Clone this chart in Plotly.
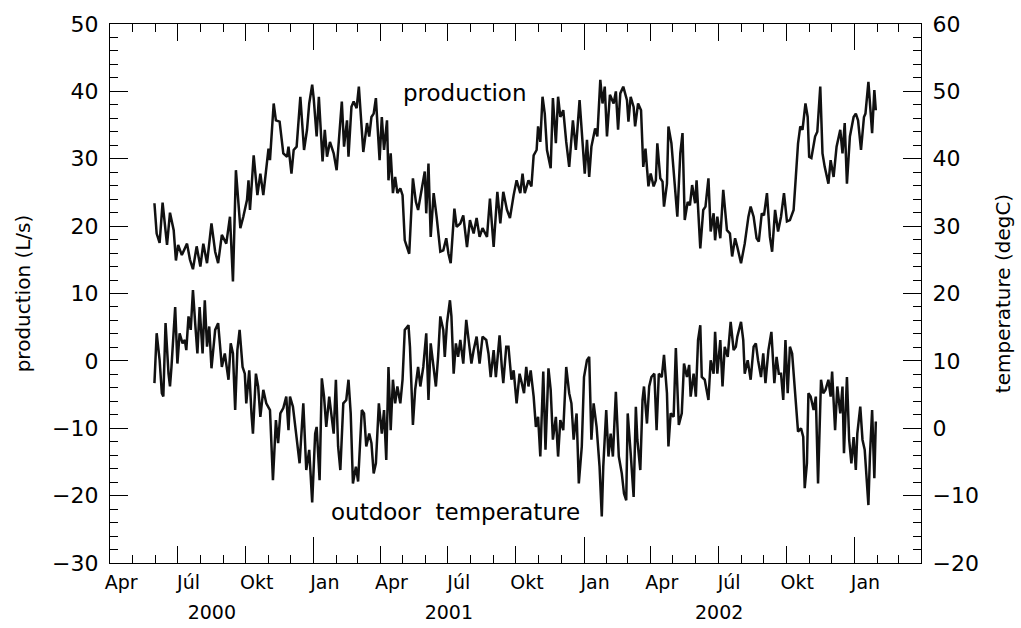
import pandas as pd
import plotly.graph_objects as go

START = "2000-04-01"
END = "2003-04-01"

# days since 2000-04-01 and production (L/s)
prod_day = [60, 63, 67, 71, 77, 81, 86, 89, 92, 97, 104, 108, 112, 117, 122, 126, 131, 137, 142, 146,
            151, 157, 162, 166, 170, 176, 180, 185, 187, 189, 194, 199, 203, 207, 214, 216, 221, 224, 229, 232,
            234, 239, 241, 245, 248, 252, 256, 257, 262, 266, 269, 273, 275, 279, 282, 287, 290, 293, 297, 302,
            306, 313, 316, 320, 322, 326, 329, 333, 336, 342, 347, 350, 353, 356, 359, 364, 367, 370, 374, 376,
            379, 382, 385, 388, 392, 395, 398, 401, 404, 409, 413, 416, 421, 425, 427, 430, 433, 437, 441, 446,
            450, 454, 457, 460, 465, 468, 473, 477, 482, 486, 491, 495, 499, 503, 509, 513, 518, 523, 527, 531,
            536, 540, 545, 549, 554, 557, 560, 565, 569, 572, 576, 578, 581, 584, 587, 590, 595, 598, 602, 605,
            608, 612, 616, 620, 625, 629, 634, 637, 641, 644, 647, 650, 655, 658, 662, 665, 668, 671, 675, 680,
            683, 686, 689, 693, 698, 700, 703, 707, 709, 713, 717, 720, 723, 727, 730, 734, 737, 739, 743, 746,
            748, 752, 754, 758, 762, 766, 770, 773, 776, 780, 783, 786, 790, 792, 797, 801, 804, 808, 811, 815,
            817, 820, 824, 828, 833, 837, 840, 844, 847, 852, 857, 862, 865, 869, 873, 876, 880, 883, 887, 891,
            894, 898, 902, 906, 910, 914, 918, 923, 926, 929, 932, 935, 939, 942, 944, 947, 952, 955, 959, 962,
            965, 970, 973, 977, 981, 986, 989, 992, 995, 999, 1004, 1007, 1010, 1014, 1018, 1020, 1024, 1026,
            1029, 1032, 1034]
prod_val = [23.4, 18.9, 17.5, 23.5, 17.2, 22.0, 19.4, 14.9, 17.2, 15.7, 17.4, 15.0, 13.6, 17.0, 14.0, 17.4,
            14.5, 20.4, 16.2, 14.5, 18.7, 17.4, 21.4, 11.8, 28.3, 19.7, 21.4, 23.9, 26.8, 22.4, 30.5, 24.6, 27.8,
            24.6, 31.5, 29.8, 38.2, 35.7, 35.5, 32.0, 30.8, 30.3, 31.8, 27.8, 31.3, 31.8, 38.2, 39.2, 31.3, 34.3,
            38.2, 41.0, 39.0, 33.3, 39.2, 29.6, 34.3, 30.3, 32.5, 30.8, 28.3, 38.5, 31.8, 35.7, 30.3, 37.7, 38.5,
            37.5, 40.7, 31.0, 35.3, 33.3, 36.2, 36.7, 39.0, 29.8, 36.2, 31.3, 35.7, 26.8, 30.8, 24.9, 27.3, 24.9,
            25.6, 24.6, 17.9, 16.9, 15.9, 27.1, 23.6, 22.4, 25.4, 28.1, 21.9, 29.3, 18.4, 24.9, 21.4, 16.2, 16.4,
            18.2, 15.9, 14.5, 22.6, 19.9, 20.4, 21.6, 16.9, 20.9, 18.9, 21.2, 18.4, 19.7, 18.4, 24.1, 16.9, 25.1,
            20.4, 25.1, 22.4, 21.2, 24.6, 26.8, 24.9, 27.8, 24.9, 26.8, 25.9, 30.5, 31.3, 34.8, 32.5, 39.2, 36.7,
            31.3, 28.6, 39.0, 32.3, 39.2, 36.2, 37.2, 32.5, 28.8, 35.7, 31.3, 38.7, 34.3, 27.8, 32.8, 27.3, 31.8,
            34.5, 33.3, 41.7, 38.2, 40.7, 33.3, 39.5, 38.2, 40.0, 34.3, 39.7, 40.7, 38.7, 35.5, 39.2, 37.7, 34.8,
            38.2, 37.2, 28.8, 31.5, 25.9, 27.8, 25.9, 26.8, 32.3, 27.1, 26.6, 22.9, 26.3, 34.8, 32.3, 26.8, 21.4,
            30.8, 33.8, 20.9, 23.6, 23.1, 26.1, 23.4, 26.8, 16.7, 22.4, 22.9, 27.1, 19.2, 21.9, 17.9, 21.4, 18.2,
            25.4, 19.4, 18.9, 15.5, 18.2, 16.9, 14.5, 17.4, 21.4, 22.9, 21.4, 18.2, 17.7, 21.9, 21.6, 24.9, 18.4,
            16.2, 22.4, 19.2, 21.4, 24.9, 20.7, 20.9, 22.4, 27.3, 32.3, 34.8, 34.3, 38.2, 36.2, 30.3, 30.1, 33.3,
            34.0, 40.7, 30.8, 28.8, 26.3, 29.8, 27.3, 31.8, 34.3, 30.8, 35.3, 26.3, 33.3, 36.2, 36.7, 35.7, 31.3,
            36.2, 36.7, 41.4, 38.2, 33.8, 40.2, 37.2]

# days since 2000-04-01 and outdoor temperature (degC)
temp_day = [60, 63, 67, 70, 72, 75, 79, 81, 83, 88, 91, 94, 98, 101, 103, 106, 109, 112, 115, 118,
            121, 125, 128, 131, 134, 137, 142, 146, 151, 155, 160, 163, 166, 169, 172, 175, 179, 182, 184, 188,
            191, 193, 197, 200, 203, 207, 211, 216, 220, 224, 227, 230, 234, 238, 241, 243, 247, 252, 256, 261,
            265, 269, 273, 277, 279, 283, 286, 289, 292, 296, 299, 302, 305, 308, 311, 315, 319, 322, 325, 328,
            332, 335, 340, 343, 346, 350, 353, 356, 359, 363, 367, 370, 373, 376, 379, 382, 385, 388, 392, 395,
            398, 403, 405, 409, 412, 416, 419, 423, 427, 430, 433, 436, 440, 443, 446, 450, 452, 455, 459, 461,
            464, 467, 470, 473, 477, 481, 485, 488, 491, 495, 499, 503, 508, 511, 514, 518, 521, 526, 529, 531,
            535, 538, 542, 545, 549, 553, 556, 559, 562, 565, 568, 572, 575, 578, 581, 585, 588, 592, 595, 598,
            602, 605, 608, 612, 616, 620, 623, 626, 630, 633, 637, 640, 644, 647, 650, 653, 657, 661, 664, 666,
            670, 673, 676, 679, 683, 687, 691, 694, 697, 699, 703, 707, 710, 712, 716, 719, 721, 725, 728, 731,
            735, 738, 741, 745, 748, 752, 754, 757, 761, 764, 768, 772, 775, 779, 782, 784, 788, 791, 794, 797,
            799, 803, 808, 811, 815, 817, 820, 824, 827, 830, 834, 838, 842, 845, 847, 852, 855, 857, 861, 865,
            869, 872, 875, 879, 882, 885, 889, 893, 897, 900, 903, 906, 909, 912, 915, 918, 921, 925, 929, 933,
            936, 938, 941, 943, 946, 950, 953, 956, 960, 963, 966, 970, 973, 975, 979, 982, 986, 989, 991, 995,
            998, 1001, 1004, 1007, 1009, 1013, 1016, 1019, 1022, 1024, 1026, 1029, 1032, 1034]
temp_val = [6.7, 14.1, 10.1, 5.2, 4.7, 15.6, 8.1, 6.2, 9.1, 18.0, 9.6, 14.1, 12.6, 13.1, 11.6, 16.6, 14.6,
            20.5, 15.6, 11.1, 18.0, 11.1, 19.0, 12.1, 15.1, 8.9, 14.6, 15.6, 9.1, 11.1, 7.2, 12.6, 11.1, 2.7,
            11.6, 14.6, 9.1, 8.1, 3.7, 8.6, 2.2, -0.8, 8.1, 6.2, 1.7, 5.7, 3.7, 2.7, -7.7, 1.2, -2.2, 2.2, 3.0,
            4.7, -0.3, 4.7, 3.2, -1.7, -5.2, 3.7, -6.2, -3.2, -11.0, -0.8, 0.2, -7.7, 7.4, 4.7, 0.2, 4.7, 1.7,
            -0.8, 7.2, -2.7, -6.2, 3.7, 4.2, 7.2, 2.2, -8.2, -5.7, -7.9, 2.7, 2.2, -2.7, -0.8, -2.2, -6.7, -5.2,
            3.7, -0.8, 2.7, -4.7, 9.1, -0.3, 7.2, 3.7, 6.2, 3.7, 7.2, 14.6, 15.3, 12.1, 0.5, 5.7, 9.1, 6.2, 9.1,
            14.1, 4.2, 12.6, 10.1, 6.2, 10.6, 16.6, 14.6, 10.6, 15.6, 19.0, 16.6, 8.1, 12.6, 10.6, 13.1, 9.6,
            16.1, 12.1, 9.6, 11.6, 13.6, 9.6, 13.6, 13.1, 11.1, 7.6, 11.6, 7.6, 13.8, 9.1, 6.7, 12.1, 12.1, 7.2,
            8.6, 3.7, 8.1, 6.7, 5.2, 9.1, 6.2, 8.6, 4.7, 0.2, 1.7, -4.2, 8.4, -3.2, 8.9, 5.7, -1.7, 1.7, -4.2,
            1.2, -0.3, 9.1, 5.2, 3.7, -1.7, 2.2, -8.2, -2.7, 7.6, 10.1, 10.6, -1.7, 3.7, 0.2, -5.7, -13.1, -5.7,
            2.7, -4.2, -0.8, -4.2, 5.4, -4.2, -6.7, -9.7, -10.7, 2.2, -3.7, -10.2, 3.2, -1.7, -6.2, 4.2, 6.2,
            0.7, 6.2, 7.6, 8.1, -0.3, 8.1, 7.6, 10.9, 5.2, -2.7, 2.2, 1.7, 11.9, 0.5, 2.2, 9.6, 7.6, 9.4, 4.7,
            8.1, 4.7, 13.1, 15.3, 7.6, 7.2, 4.2, 10.1, 8.1, 14.3, 8.1, 13.1, 6.2, 12.1, 10.6, 15.8, 11.6, 12.1,
            13.6, 15.8, 13.1, 8.1, 10.1, 7.2, 12.1, 12.6, 10.1, 7.6, 11.1, 6.7, 11.6, 14.3, 6.7, 10.6, 8.1, 8.1,
            4.2, 13.1, 5.2, 12.1, 11.1, 5.7, -0.5, 0.0, -1.3, -8.9, -5.2, 5.2, 4.7, 2.7, 4.7, -8.2, 7.2, 5.2,
            5.7, 7.2, 4.7, 8.4, -0.3, 6.2, 2.2, 6.2, -3.7, 7.6, -1.7, -5.2, -1.3, -6.2, -0.8, 3.2, -1.7, -3.2,
            -7.7, -11.4, -4.2, 2.7, -7.4, 1.0]

month_names = {1: "Jan", 4: "Apr", 7: "Júl", 10: "Okt"}
year_labels = [2000, 2001, 2002]

t0 = pd.Timestamp(START)
t1 = pd.Timestamp(END)
prod_x = t0 + pd.to_timedelta(prod_day, unit="D")
temp_x = t0 + pd.to_timedelta(temp_day, unit="D")

def dstr(ts):
    return ts.strftime("%Y-%m-%d %H:%M")

months = [dstr(m) for m in pd.date_range(t0, t1, freq="MS")]
quarters = [dstr(q) for q in pd.date_range(t0, t1, freq="QS")]
jans = [dstr(j) for j in pd.date_range(t0, t1, freq="YS")]
lab_q = [q for q in pd.date_range(t0, t1, freq="QS") if q < t1]
label_pos = [dstr(q + pd.Timedelta(days=15)) for q in lab_q]
label_txt = [month_names[q.month] for q in lab_q]
year_pos = []
for y in year_labels:
    s = max(pd.Timestamp(f"{y}-01-01"), t0)
    e = min(pd.Timestamp(f"{y + 1}-01-01"), t1)
    year_pos.append(dstr(s + (e - s) / 2))

FONT = "DejaVu Sans"
INK = "#111111"
RNG = [dstr(t0), dstr(t1)]

fig = go.Figure()
fig.add_trace(go.Scatter(x=prod_x, y=prod_val, mode="lines", line=dict(color=INK, width=2.5),
                         xaxis="x", yaxis="y", name="production"))
fig.add_trace(go.Scatter(x=temp_x, y=temp_val, mode="lines", line=dict(color=INK, width=2.5),
                         xaxis="x", yaxis="y2", name="outdoor temperature"))
for ax in ["x2", "x3", "x4"]:
    fig.add_trace(go.Scatter(x=RNG, y=[None, None], mode="lines", xaxis=ax, yaxis="y",
                             showlegend=False, hoverinfo="skip"))

common_x = dict(type="date", range=RNG, showgrid=False, zeroline=False, automargin=False)
TICK = dict(tickwidth=1.3, tickcolor="black")

fig.update_layout(
    width=1021, height=628,
    margin=dict(l=110, r=100, t=24, b=65),
    paper_bgcolor="white", plot_bgcolor="rgba(0,0,0,0)",
    showlegend=False,
    font=dict(family=FONT, color="black", size=19),
    xaxis=dict(**common_x, showline=True, linecolor="black", linewidth=1.3, mirror="ticks",
               ticks="inside", tickmode="array", tickvals=quarters, ticklen=17, **TICK,
               showticklabels=False, layer="above traces",
               minor=dict(tickmode="array", tickvals=months, ticks="inside", ticklen=8, **TICK)),
    xaxis2=dict(**common_x, overlaying="x", anchor="y", showline=False, mirror="ticks",
                ticks="inside", tickmode="array", tickvals=jans, ticklen=26, **TICK,
                showticklabels=False),
    xaxis3=dict(**common_x, overlaying="x", anchor="y", showline=False, ticks="",
                tickmode="array", tickvals=label_pos, ticktext=label_txt,
                tickfont=dict(family=FONT, size=19, color="black"), ticklabelstandoff=6),
    xaxis4=dict(**common_x, overlaying="x", anchor="y", showline=False, ticks="",
                tickmode="array", tickvals=year_pos, ticktext=[str(y) for y in year_labels],
                tickfont=dict(family=FONT, size=19, color="black"), ticklabelstandoff=36),
    yaxis=dict(range=[-30, 50], tickmode="linear", tick0=0, dtick=10, ticks="inside", ticklen=18,
               **TICK, showline=True, linecolor="black", linewidth=1.3, automargin=False,
               mirror=False, showgrid=False, zeroline=False, layer="above traces",
               minor=dict(dtick=2, ticks="inside", ticklen=8, **TICK),
               tickfont=dict(family=FONT, size=22, color="black"), ticklabelstandoff=6,
               title=dict(text="production (L/s)", font=dict(family=FONT, size=20, color="black"),
                          standoff=16)),
    yaxis2=dict(range=[-20, 60], overlaying="y", side="right", anchor="x", tickmode="linear",
                tick0=0, dtick=10, ticks="inside", ticklen=18, **TICK, automargin=False,
                showline=True, linecolor="black", linewidth=1.3, showgrid=False, zeroline=False,
                minor=dict(dtick=2, ticks="inside", ticklen=8, **TICK),
                tickfont=dict(family=FONT, size=22, color="black"), ticklabelstandoff=6,
                title=dict(text="temperature (degC)", font=dict(family=FONT, size=20, color="black"),
                           standoff=18)),
    annotations=[
        dict(text="production", x=dstr(t0 + pd.Timedelta(days=479)), y=39.8, xref="x", yref="y",
             showarrow=False, font=dict(family=FONT, size=23, color="black")),
        dict(text="outdoor\u00a0\u00a0temperature", x=dstr(t0 + pd.Timedelta(days=466)), y=-22.4,
             xref="x", yref="y", showarrow=False, font=dict(family=FONT, size=23, color="black")),
    ],
)

fig.write_html(
    "out.html",
    config={"displayModeBar": False},
    post_script="document.body.style.margin='0';document.body.style.padding='0';"
                "document.body.style.overflow='hidden';",
)
